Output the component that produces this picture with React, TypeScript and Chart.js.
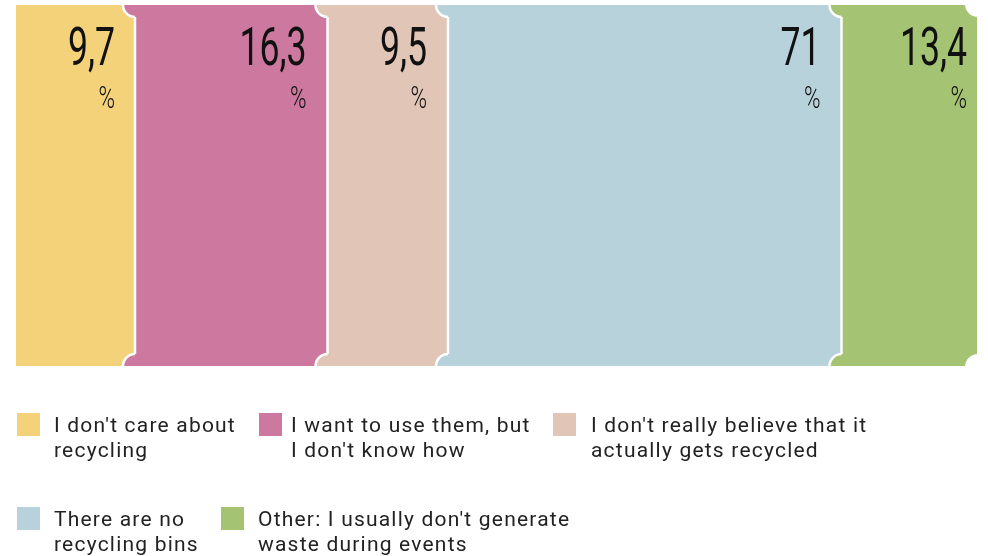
import { useEffect, useRef } from "react";
import { Chart, registerables } from "chart.js";

Chart.register(...registerables);

// ---- data ----
const categories = [
  "I don't care about recycling",
  "I want to use them, but I don't know how",
  "I don't really believe that it actually gets recycled",
  "There are no recycling bins",
  "Other: I usually don't generate waste during events",
];
const legendLines = [
  ["I don't care about", "recycling"],
  ["I want to use them, but", "I don't know how"],
  ["I don't really believe that it", "actually gets recycled"],
  ["There are no", "recycling bins"],
  ["Other: I usually don't generate", "waste during events"],
];
const percentValues = [9.7, 16.3, 9.5, 71, 13.4];
// lengths of the segments as drawn in the picture (not proportional to the percentages)
const segmentLengths = [119, 192.5, 120.5, 393.5, 135.5];

// ---- styles ----
const colors = ["#F4D27A", "#CC789F", "#E1C5B6", "#B8D2DC", "#A4C473"];
const labelInset = [20, 21, 21, 21, 10];
const legendSquareX = [17, 259, 553, 17, 221];
const legendTextX = [54, 291, 591, 54, 258];
const legendRowY = [413, 413, 413, 507, 507];

const formatPct = (v: number) => String(v).replace(".", ",");

const ticketPlugin = {
  id: "ticket",
  afterDatasetsDraw(chart: any) {
    const { ctx, chartArea } = chart;
    const top = chartArea.top;
    const bottom = chartArea.bottom;
    const r = 12;
    const n = chart.data.datasets.length;
    const els = chart.data.datasets.map((_: any, i: number) => chart.getDatasetMeta(i).data[0]);
    ctx.save();
    for (let i = 0; i < n - 1; i++) {
      const xb = els[i].x;
      // top knob of next segment (covers seam too)
      ctx.fillStyle = colors[i + 1];
      ctx.beginPath();
      ctx.moveTo(xb + 2, top);
      ctx.lineTo(xb + 2, top + r);
      ctx.lineTo(xb, top + r);
      ctx.arc(xb, top, r, Math.PI / 2, Math.PI);
      ctx.closePath();
      ctx.fill();
      // bottom knob
      ctx.beginPath();
      ctx.moveTo(xb + 2, bottom);
      ctx.lineTo(xb - r, bottom);
      ctx.arc(xb, bottom, r, Math.PI, Math.PI * 1.5);
      ctx.lineTo(xb + 2, bottom - r);
      ctx.closePath();
      ctx.fill();

      ctx.strokeStyle = "#ffffff";
      ctx.lineWidth = 2.5;
      ctx.beginPath();
      ctx.moveTo(xb, top + r);
      ctx.lineTo(xb, bottom - r);
      ctx.stroke();
      ctx.beginPath();
      ctx.arc(xb, top, r, Math.PI / 2, Math.PI);
      ctx.stroke();
      ctx.beginPath();
      ctx.arc(xb, bottom, r, Math.PI, Math.PI * 1.5);
      ctx.stroke();
    }
    // notches at the right end
    const xe = els[n - 1].x;
    ctx.fillStyle = "#ffffff";
    ctx.beginPath();
    ctx.moveTo(xe + 1, top - 1);
    ctx.arc(xe + 1, top - 1, r + 1, Math.PI / 2, Math.PI);
    ctx.closePath();
    ctx.fill();
    ctx.beginPath();
    ctx.moveTo(xe + 1, bottom + 1);
    ctx.arc(xe + 1, bottom + 1, r + 1, Math.PI, Math.PI * 1.5);
    ctx.closePath();
    ctx.fill();

    // value labels
    ctx.fillStyle = "#111111";
    ctx.textAlign = "right";
    ctx.textBaseline = "alphabetic";
    for (let i = 0; i < n; i++) {
      const xr = els[i].x - labelInset[i];
      ctx.save();
      ctx.translate(xr, 65);
      ctx.scale(0.66, 1);
      ctx.font = "400 54px Roboto";
      ctx.fillText(formatPct(percentValues[i]), 0, 0);
      ctx.restore();
      ctx.save();
      ctx.translate(xr, 108);
      ctx.scale(0.7, 1);
      ctx.font = "300 32px Roboto";
      ctx.fillText("%", 0, 0);
      ctx.restore();
    }
    ctx.restore();
  },
  afterDraw(chart: any) {
    const { ctx } = chart;
    ctx.save();
    ctx.textAlign = "left";
    ctx.textBaseline = "alphabetic";
    ctx.font = "400 21px Roboto";
    (ctx as any).letterSpacing = "1.2px";
    for (let i = 0; i < legendLines.length; i++) {
      ctx.fillStyle = colors[i];
      ctx.fillRect(legendSquareX[i], legendRowY[i], 23, 23);
      ctx.fillStyle = "#222222";
      legendLines[i].forEach((line, j) => {
        ctx.fillText(line, legendTextX[i], legendRowY[i] + 19 + j * 25);
      });
    }
    ctx.restore();
  },
};

export default function App() {
  const ref = useRef<HTMLCanvasElement | null>(null);
  useEffect(() => {
    if (!ref.current) return;
    const total = segmentLengths.reduce((a, b) => a + b, 0);
    const chart = new Chart(ref.current, {
      type: "bar",
      data: {
        labels: [""],
        datasets: categories.map((c, i) => ({
          label: c,
          data: [segmentLengths[i]],
          backgroundColor: colors[i],
          borderWidth: 0,
          barPercentage: 1,
          categoryPercentage: 1,
        })),
      },
      options: {
        indexAxis: "y",
        responsive: false,
        animation: false,
        devicePixelRatio: 1,
        layout: { padding: { left: 16, right: 11, top: 5, bottom: 190 } },
        scales: {
          x: { stacked: true, display: false, min: 0, max: total },
          y: { stacked: true, display: false },
        },
        plugins: { legend: { display: false }, tooltip: { enabled: false } },
      },
      plugins: [ticketPlugin],
    } as any);
    return () => chart.destroy();
  }, []);
  return (
    <div style={{ position: "fixed", left: 0, top: 0, width: 988, height: 556, background: "#fff" }}>
      <canvas ref={ref} width={988} height={556} />
    </div>
  );
}
